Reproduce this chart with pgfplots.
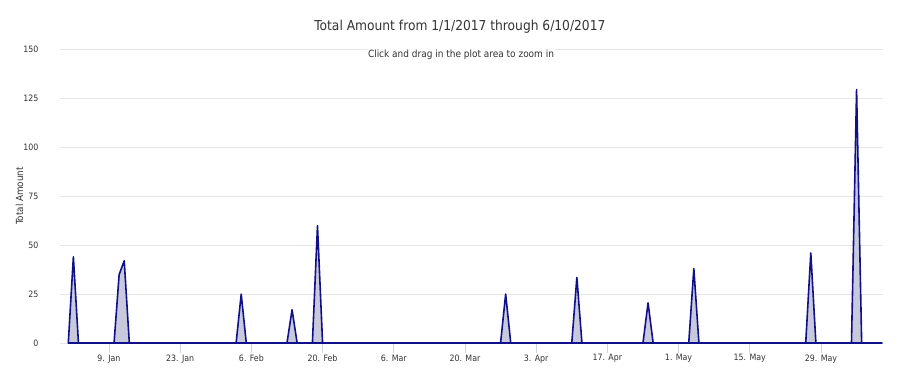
\documentclass[border=0pt]{standalone}
\usepackage{pgfplots}
\pgfplotsset{compat=1.18}
\usepackage{fontspec}
\setmainfont{DejaVu Sans Condensed}
\definecolor{navyline}{HTML}{10108A}
\definecolor{areafill}{HTML}{C9C9DC}
\definecolor{gridc}{HTML}{E6E6E6}
\definecolor{tickc}{HTML}{CCD6EB}
\definecolor{txt}{HTML}{333333}
\begin{document}
\begin{tikzpicture}[x=1bp,y=1bp]
\begin{axis}[
  scale only axis,
  width=822.5bp, height=293.5bp,
  at={(60bp,32bp)}, anchor=south west,
  xmin=-1.63, xmax=160.1,
  ymin=0, ymax=150,
  ytick={0,25,50,75,100,125,150},
  xtick={8,22,36,50,64,78,92,106,120,134,148},
  xticklabels={9. Jan,23. Jan,6. Feb,20. Feb,6. Mar,20. Mar,3. Apr,17. Apr,1. May,15. May,29. May},
  axis line style={draw=none},
  ymajorgrids,
  grid style={gridc, line width=0.8bp},
  ytick style={draw=none},
  xtick style={tickc, line width=0.8bp},
  tick align=outside,
  major tick length=10bp,
  xtick pos=bottom,
  ytick pos=left,
  tick label style={font=\fontsize{8.8}{10}\selectfont, text=txt},
  /pgf/number format/assume math mode=true,
  yticklabel style={xshift=-8bp},
  xticklabel style={yshift=2bp},
  clip=false,
]
\addplot[draw=navyline, line width=1.6bp, fill=areafill, line join=round] coordinates {
(0,0)(1,44)(2,0)(9,0)(10,35)(11,42)(12,0)(33,0)(34,25)(35,0)(43,0)(44,17)(45,0)
(48,0)(49,60)(50,0)(85,0)(86,25)(87,0)(99,0)(100,33.5)(101,0)(113,0)(114,20.5)(115,0)
(122,0)(123,38)(124,0)(145,0)(146,46)(147,0)(154,0)(155,129.5)(156,0)(160,0)
} \closedcycle;
\end{axis}
\node[text=txt, font=\fontsize{13.7}{16}\selectfont] at (460,348) {Total Amount from 1/1/2017 through 6/10/2017};
\node[text=txt, fill=white, inner sep=1bp, font=\fontsize{10}{12}\selectfont] at (461,320.5) {Click and drag in the plot area to zoom in};
\node[text=txt, rotate=90, font=\fontsize{9.8}{11}\selectfont] at (19.5,179) {Total Amount};
\pgfresetboundingbox
\useasboundingbox (0,0) rectangle (900,375);
\end{tikzpicture}
\end{document}
